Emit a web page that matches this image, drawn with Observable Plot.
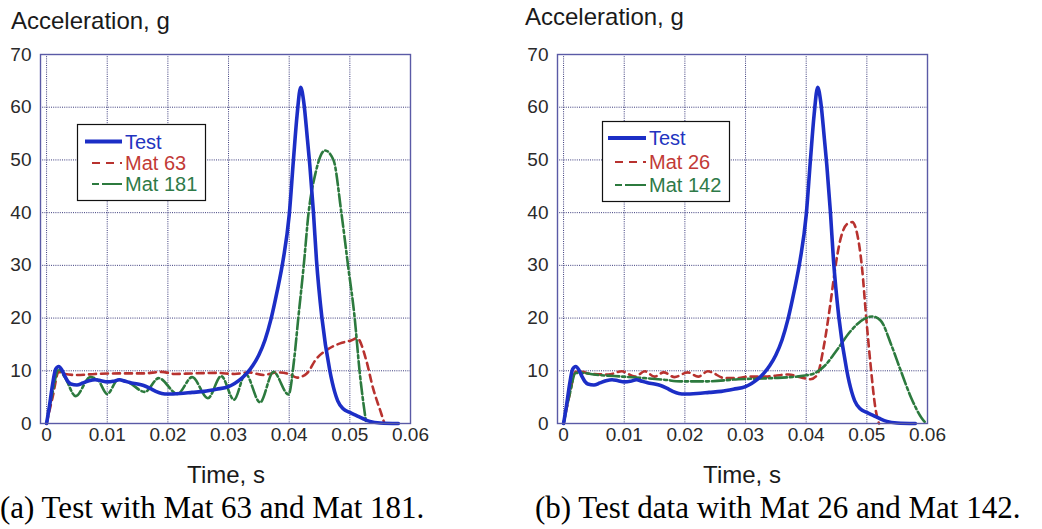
<!DOCTYPE html>
<html>
<head>
<meta charset="utf-8">
<script src="https://cdn.jsdelivr.net/npm/d3@7"></script>
<script src="https://cdn.jsdelivr.net/npm/@observablehq/plot@0.6"></script>
<style>
  html, body { margin: 0; padding: 0; background: #fff; }
  #page { position: relative; width: 1042px; height: 529px; overflow: hidden; background: #fff; }
  .abs { position: absolute; white-space: nowrap; line-height: 1; }
  .sans { font-family: "Liberation Sans", Arial, sans-serif; color: #1a1a1a; }
  .serif { font-family: "Liberation Serif", "Times New Roman", serif; color: #000; }
</style>
</head>
<body>
<div id="page">
  <div id="left" class="abs" style="left:0;top:0"></div>
  <div id="right" class="abs" style="left:521px;top:0"></div>
  <div class="abs sans" style="left:11px;top:9px;font-size:24px">Acceleration, g</div>
  <div class="abs sans" style="left:525px;top:5px;font-size:24px">Acceleration, g</div>
  <div class="abs sans" style="left:226px;top:463px;font-size:24px;transform:translateX(-50%)">Time, s</div>
  <div class="abs sans" style="left:742px;top:463px;font-size:24px;transform:translateX(-50%)">Time, s</div>
  <div class="abs serif" style="left:0px;top:492px;font-size:31px">(a) Test with Mat 63 and Mat 181.</div>
  <div class="abs serif" style="left:535px;top:492px;font-size:31px">(b) Test data with Mat 26 and Mat 142.</div>
</div>
<script>
// ---- data (time in s, acceleration in g) ----
const xTicks = [0, 0.01, 0.02, 0.03, 0.04, 0.05, 0.06];
const yTicks = [0, 10, 20, 30, 40, 50, 60, 70];
const xGrid = [0, 0.01, 0.02, 0.03, 0.04, 0.05];
const yGrid = [10, 20, 30, 40, 50, 60];

const test = [
  [0,0],[0.0005,3.5],[0.001,7.5],[0.0015,10.3],[0.002,10.8],[0.0025,10.2],[0.003,9],[0.0035,8],
  [0.004,7.5],[0.005,7.3],[0.006,7.7],[0.007,8.1],[0.008,8.3],[0.009,8.1],[0.010,7.9],[0.011,8.0],
  [0.012,8.3],[0.013,8.0],[0.014,7.7],[0.015,7.5],[0.016,7.2],[0.017,6.7],[0.018,6.1],[0.019,5.7],
  [0.020,5.6],[0.022,5.7],[0.024,5.9],[0.026,6.1],[0.028,6.5],[0.030,7.0],[0.031,7.6],[0.032,8.4],
  [0.033,9.5],[0.034,11],[0.035,13],[0.036,15.8],[0.037,19.8],[0.038,25],[0.039,31],[0.040,39.5],
  [0.0407,50],[0.0413,58.5],[0.0419,63.8],[0.0424,61],[0.043,54],[0.0434,49],[0.044,40],[0.0445,31],
  [0.0454,20],[0.0467,10],[0.0475,6],[0.048,4.3],[0.0489,2.8],[0.050,2.1],[0.0511,1.5],[0.0522,0.9],
  [0.0533,0.4],[0.055,0.1],[0.058,0]
];
const mat63 = [
  [0,0],[0.001,5],[0.002,9.8],[0.003,9.4],[0.005,9.2],[0.008,9.4],[0.012,9.5],[0.016,9.5],
  [0.019,9.8],[0.021,9.4],[0.024,9.5],[0.028,9.6],[0.031,9.4],[0.0333,9.7],[0.0358,9.2],[0.038,9.7],
  [0.040,9.4],[0.0413,8.7],[0.0429,9.5],[0.0445,12.3],[0.0464,14.1],[0.0484,15.2],[0.0503,15.8],
  [0.0512,16.2],[0.0527,12],[0.0538,6.8],[0.0552,1.8],[0.0557,0]
];
const mat181 = [
  [0,0],[0.001,6],[0.002,10.3],[0.003,8.8],[0.0048,5.2],[0.0072,8.8],[0.0085,8.2],[0.0100,5.6],
  [0.0118,8.3],[0.0135,7.8],[0.0162,6.0],[0.0185,8.6],[0.0216,5.6],[0.024,8.8],[0.0266,4.8],
  [0.0288,9.0],[0.0309,4.5],[0.0328,9.4],[0.0352,4.0],[0.0374,9.8],[0.0399,5.5],[0.0408,12],
  [0.0415,20],[0.0424,30],[0.0432,40],[0.0443,47.3],[0.0459,51.8],[0.0473,50],[0.0486,40],
  [0.0497,30],[0.0508,20],[0.0516,10],[0.0527,0]
];
const mat26 = [
  [0,0],[0.001,5.5],[0.002,9.8],[0.003,9.8],[0.0045,9.4],[0.0074,9.3],[0.0096,9.9],[0.0118,8.9],
  [0.0134,9.9],[0.015,8.9],[0.0165,9.7],[0.0183,8.8],[0.0205,9.7],[0.0222,8.9],[0.0238,9.9],
  [0.0266,8.6],[0.0288,8.6],[0.0305,8.9],[0.0332,8.9],[0.0371,9.3],[0.0393,8.7],[0.0407,8.4],
  [0.0418,9.2],[0.0429,14.6],[0.044,22.8],[0.0448,29.6],[0.0456,34.7],[0.0467,37.8],[0.0476,38.2],
  [0.0484,36],[0.0492,29.6],[0.0499,20],[0.0506,11.3],[0.0514,3],[0.052,0]
];
const mat142 = [
  [0,0],[0.001,5.5],[0.002,9.6],[0.003,9.6],[0.005,9.3],[0.0096,8.9],[0.0134,8.6],[0.0166,8.3],
  [0.0193,8.0],[0.0238,8.0],[0.0288,8.4],[0.0343,8.6],[0.0398,9.1],[0.0415,9.6],[0.0431,11],
  [0.0451,14],[0.0473,17.5],[0.0495,19.8],[0.0509,20.3],[0.0523,19.5],[0.054,15],[0.0556,10],
  [0.0573,4.9],[0.059,1.1],[0.0598,0]
];

// ---- styles ----
const BLUE = "#1c2ec6", RED = "#b8322f", GREEN = "#2c7a3e";
const fmt = d => String(d);

function panel(marginLeft, marginRight, red, green) {
  const line = (data, opts) => Plot.line(data, {x: d => d[0], y: d => d[1], curve: "monotone-x", ...opts});
  return Plot.plot({
    width: 521, height: 470,
    marginTop: 54, marginBottom: 47, marginLeft, marginRight,
    x: {domain: [-0.001, 0.06]},
    y: {domain: [0, 70]},
    style: {fontFamily: "'Liberation Sans', Arial, sans-serif", fontSize: "19px", color: "#2a2a2a", background: "transparent", overflow: "visible"},
    marks: [
      Plot.gridX(xGrid, {stroke: "#26266e", strokeOpacity: 0.9, strokeDasharray: "1,1.2", strokeWidth: 1}),
      Plot.gridY(yGrid, {stroke: "#26266e", strokeOpacity: 0.9, strokeDasharray: "1,1.2", strokeWidth: 1}),
      Plot.axisX(xTicks, {tickSize: 0, tickPadding: 4, tickFormat: fmt, label: null}),
      Plot.axisY(yTicks, {tickSize: 0, tickPadding: 9, label: null}),
      line(red.data, {stroke: RED, strokeWidth: 2.6, strokeDasharray: "7,5"}),
      line(green.data, {stroke: GREEN, strokeWidth: 2.6, strokeDasharray: "12,3,3,3"}),
      line(test, {stroke: BLUE, strokeWidth: 3.6}),
      Plot.frame({stroke: "#5a5aa6", strokeWidth: 1.4})
    ]
  });
}

function legend(left, top, w, h, lineX1, lineX2, textX, rows, labels) {
  const ns = "http://www.w3.org/2000/svg";
  const svg = document.createElementNS(ns, "svg");
  svg.setAttribute("width", w); svg.setAttribute("height", h);
  svg.style.position = "absolute"; svg.style.left = left + "px"; svg.style.top = top + "px";
  svg.style.overflow = "visible";
  const rect = document.createElementNS(ns, "rect");
  Object.entries({x: 0.5, y: 0.5, width: w - 1, height: h - 1, fill: "#fff", stroke: "#111", "stroke-width": 1.2})
    .forEach(([k, v]) => rect.setAttribute(k, v));
  svg.appendChild(rect);
  const styles = [
    {stroke: BLUE, sw: 4, dash: null, color: "#2234c0"},
    {stroke: RED, sw: 2.2, dash: "8,6", color: "#c23a36", x1off: 7},
    {stroke: GREEN, sw: 2.2, dash: "7,3,16,0", color: "#2e7a48", x1off: 7}
  ];
  labels.forEach((lab, i) => {
    const s = styles[i];
    const ln = document.createElementNS(ns, "line");
    Object.entries({x1: lineX1 + (s.x1off || 0), x2: lineX2, y1: rows[i], y2: rows[i], stroke: s.stroke, "stroke-width": s.sw})
      .forEach(([k, v]) => ln.setAttribute(k, v));
    if (s.dash) ln.setAttribute("stroke-dasharray", s.dash);
    svg.appendChild(ln);
    const t = document.createElementNS(ns, "text");
    t.setAttribute("x", textX); t.setAttribute("y", rows[i]); t.setAttribute("dy", "0.36em");
    t.setAttribute("fill", s.color);
    t.setAttribute("font-family", "'Liberation Sans', Arial, sans-serif");
    t.setAttribute("font-size", "20");
    t.textContent = lab;
    svg.appendChild(t);
  });
  document.getElementById("page").appendChild(svg);
}

document.getElementById("left").appendChild(panel(40, 111, {data: mat63}, {data: mat181}));
document.getElementById("right").appendChild(panel(36, 115, {data: mat26}, {data: mat142}));

legend(77, 124, 129, 77, 8, 45, 48, [17.5, 39, 60], ["Test", "Mat 63", "Mat 181"]);
legend(602, 121, 128, 81, 6, 44, 47, [17, 41, 64], ["Test", "Mat 26", "Mat 142"]);
</script>
</body>
</html>
